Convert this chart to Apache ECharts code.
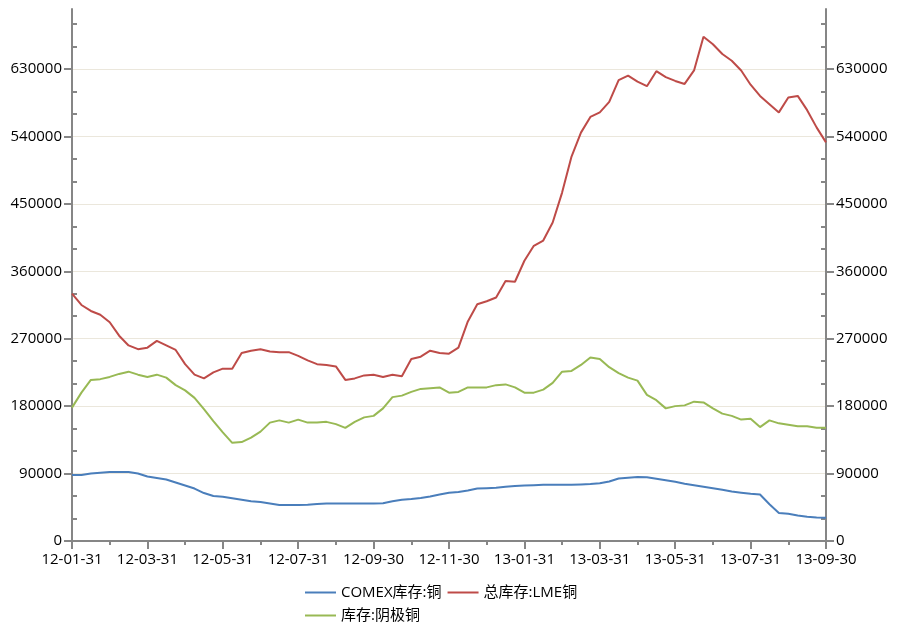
<!DOCTYPE html>
<html><head><meta charset="utf-8">
<script src="https://cdn.jsdelivr.net/npm/echarts@6/dist/echarts.min.js"></script>
<style>html,body{margin:0;padding:0;background:#fff}#c{width:899px;height:624px}</style>
</head><body><div id="c"></div>
<script>
// X tick labels (every 2 months); data sampled every quarter month from 12-01-31
const monthLabels = ['12-01-31','12-03-31','12-05-31','12-07-31','12-09-30','12-11-30','13-01-31','13-03-31','13-05-31','13-07-31','13-09-30'];
const yTicks = [0,90000,180000,270000,360000,450000,540000,630000];
const yMinorTicks = [30000,60000,120000,150000,210000,240000,300000,330000,390000,420000,480000,510000,570000,600000,660000,690000];
const seriesNames = ['COMEX库存:铜','总库存:LME铜','库存:阴极铜'];

const comex = [88000,88000,90000,91000,92000,92000,92000,90000,86000,84000,
  82000,78000,74000,70000,64000,60000,59000,57000,55000,53000,
  52000,50000,48000,48000,48000,48500,49500,50000,50000,50000,
  50000,50000,50000,50500,53000,55000,56000,57500,59500,62000,
  64500,65500,67500,70000,70500,71000,72500,73500,74000,74500,
  75000,75000,75000,75000,75500,76000,77000,79500,83500,84500,
  85500,85000,83000,81000,79000,76500,74500,72500,70500,68500,
  66000,64500,63000,62000,49000,37500,36500,34000,32500,31500,31000];

const lme = [330000,315000,307000,302000,292000,274000,261000,256000,258000,267000,
  261000,255000,236000,222000,217000,225000,230000,230000,251000,254000,
  256000,253000,252000,252000,247000,241000,236000,235000,233000,215000,
  217000,221000,222000,219000,222000,220000,243000,246000,254000,251000,
  250000,258000,293000,316000,320000,325000,347000,346000,374000,394000,
  401000,425000,465000,513000,545000,566000,572000,586000,615000,621000,
  613000,607000,627000,619000,614000,610000,628000,673000,663000,650000,
  641000,628000,609000,594000,583000,572000,592000,594000,575000,552000,532000];

const cathode = [178000,198000,215000,216000,219000,223000,226000,222000,219000,222000,
  218000,208000,201000,191000,176000,160000,145000,131000,132000,138000,
  146000,158000,161000,158000,162000,158000,158000,159000,156000,151000,
  159000,165000,167000,177000,192000,194000,199000,203000,204000,205000,
  198000,199000,205000,205000,205000,208000,209000,205000,198000,198000,
  202000,211000,226000,227000,235000,245000,243000,232000,224000,218000,
  214000,195000,188000,177000,180000,181000,186000,185000,177000,170000,
  167000,162000,163000,152000,161000,157000,155000,153000,153000,151000,151000];

const sampleStep = 0.25; // months per sample
const toPairs = arr => arr.map((v, i) => [i * sampleStep, v]);

const FONT = '"Open Sans", "Noto Sans CJK SC", sans-serif';
const gray = '#868686';
const colors = ['#4a7ebb', '#be4b48', '#98b954'];

const chart = echarts.init(document.getElementById('c'), null, {renderer: 'canvas'});
const yCommon = {type: 'value', min: 0, max: 710000, interval: 90000};
chart.setOption({
  animation: false,
  backgroundColor: '#fff',
  color: colors,
  grid: {left: 72, right: 73, top: 9, bottom: 83, containLabel: false, outerBoundsMode: 'none'},
  legend: {
    left: 300, top: 579, width: 300,
    itemWidth: 31, itemHeight: 12, itemGap: 6,
    icon: 'path://M0,5L31,5L31,7L0,7Z',
    textStyle: {fontFamily: FONT, fontSize: 15, color: '#000', lineHeight: 17},
    data: seriesNames
  },
  xAxis: {
    type: 'value', min: 0, max: 20, interval: 2,
    axisLine: {show: true, onZero: false, lineStyle: {color: gray, width: 2}},
    axisTick: {show: true, length: 8, lineStyle: {color: gray, width: 2}},
    minorTick: {show: true, splitNumber: 2, length: 4, lineStyle: {color: gray, width: 2}},
    axisLabel: {margin: 11, color: '#000', fontFamily: FONT, fontSize: 15,
      formatter: v => monthLabels[Math.round(v / 2)] || ''},
    splitLine: {show: false}, minorSplitLine: {show: false}
  },
  yAxis: [
    Object.assign({}, yCommon, {
      position: 'left',
      axisLine: {show: true, onZero: false, lineStyle: {color: gray, width: 2}},
      axisTick: {show: true, customValues: yTicks, length: 8, lineStyle: {color: gray, width: 2}},
      axisLabel: {customValues: yTicks, margin: 10, color: '#000', fontFamily: FONT, fontSize: 15, formatter: v => String(v)},
      splitLine: {show: true, lineStyle: {color: '#ebe7dc', width: 1}}
    }),
    Object.assign({}, yCommon, {
      position: 'right',
      axisLine: {show: true, onZero: false, lineStyle: {color: gray, width: 2}},
      axisTick: {show: true, customValues: yTicks, length: 8, lineStyle: {color: gray, width: 2}},
      axisLabel: {customValues: yTicks, margin: 10, color: '#000', fontFamily: FONT, fontSize: 15, formatter: v => String(v)},
      splitLine: {show: false}
    }),
    Object.assign({}, yCommon, {
      position: 'left', offset: 0,
      axisLine: {show: false, onZero: false},
      axisTick: {show: true, inside: true, customValues: yMinorTicks, length: 5, lineStyle: {color: gray, width: 2}},
      axisLabel: {show: false},
      splitLine: {show: false}
    }),
    Object.assign({}, yCommon, {
      position: 'right', offset: 0,
      axisLine: {show: false, onZero: false},
      axisTick: {show: true, inside: true, customValues: yMinorTicks, length: 5, lineStyle: {color: gray, width: 2}},
      axisLabel: {show: false},
      splitLine: {show: false}
    })
  ],
  series: [
    {name: seriesNames[0], type: 'line', data: toPairs(comex), symbol: 'none', lineStyle: {width: 2, color: colors[0]}, itemStyle: {color: colors[0]}},
    {name: seriesNames[1], type: 'line', data: toPairs(lme), symbol: 'none', lineStyle: {width: 2, color: colors[1]}, itemStyle: {color: colors[1]}},
    {name: seriesNames[2], type: 'line', data: toPairs(cathode), symbol: 'none', lineStyle: {width: 2, color: colors[2]}, itemStyle: {color: colors[2]}}
  ]
});
</script>
</body></html>
